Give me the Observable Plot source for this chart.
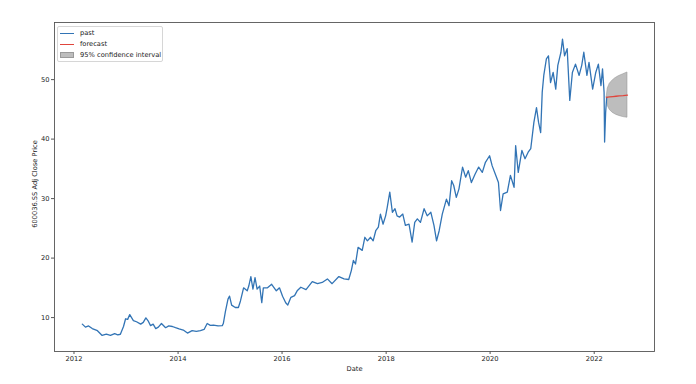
<!DOCTYPE html>
<html>
<head>
<meta charset="utf-8">
<script src="https://cdn.jsdelivr.net/npm/d3@7"></script>
<script src="https://cdn.jsdelivr.net/npm/@observablehq/plot@0.6"></script>
<style>
  html, body { margin: 0; padding: 0; background: #fff; }
  #wrap { position: relative; width: 696px; height: 384px; font-family: "DejaVu Sans", sans-serif; }
  #legend { position: absolute; left: 57px; top: 26px; width: 106px; height: 36px; border: 1px solid #d6d6d6; border-radius: 2px; background: rgba(255,255,255,0.8); box-sizing: border-box; font-size: 6.7px; color: #222; }
  .row { position: absolute; left: 2px; height: 10px; display: flex; align-items: center; white-space: nowrap; }
  .sw { width: 14px; margin-right: 6px; }
</style>
</head>
<body>
<div id="wrap"></div>
<script>
// ---- data (decimal years) ----
const pastT = [2012.16,2012.22,2012.28,2012.35,2012.45,2012.54,2012.62,2012.70,2012.78,2012.84,2012.89,2012.95,2012.99,2013.03,2013.07,2013.14,2013.20,2013.28,2013.33,2013.38,2013.42,2013.47,2013.52,2013.57,2013.62,2013.68,2013.76,2013.82,2013.89,2013.95,2014.02,2014.10,2014.18,2014.27,2014.35,2014.43,2014.50,2014.56,2014.62,2014.68,2014.77,2014.85,2014.87,2014.91,2014.96,2014.99,2015.03,2015.10,2015.16,2015.20,2015.26,2015.33,2015.36,2015.40,2015.44,2015.48,2015.52,2015.57,2015.61,2015.64,2015.72,2015.80,2015.89,2015.95,2016.01,2016.07,2016.11,2016.17,2016.24,2016.29,2016.36,2016.46,2016.58,2016.68,2016.77,2016.87,2016.96,2017.09,2017.19,2017.28,2017.33,2017.37,2017.41,2017.46,2017.54,2017.59,2017.64,2017.70,2017.75,2017.80,2017.85,2017.89,2017.94,2017.99,2018.02,2018.07,2018.12,2018.17,2018.21,2018.26,2018.32,2018.37,2018.44,2018.50,2018.55,2018.60,2018.66,2018.73,2018.79,2018.86,2018.92,2018.97,2019.02,2019.08,2019.16,2019.21,2019.26,2019.30,2019.35,2019.40,2019.47,2019.53,2019.58,2019.64,2019.71,2019.78,2019.85,2019.91,2019.99,2020.04,2020.11,2020.16,2020.20,2020.25,2020.33,2020.39,2020.46,2020.49,2020.54,2020.61,2020.67,2020.73,2020.78,2020.84,2020.89,2020.93,2020.97,2021.00,2021.03,2021.08,2021.12,2021.16,2021.21,2021.26,2021.30,2021.36,2021.39,2021.43,2021.48,2021.53,2021.58,2021.64,2021.71,2021.76,2021.80,2021.86,2021.90,2021.97,2022.03,2022.08,2022.13,2022.16,2022.19,2022.20,2022.22,2022.24];
const pastV = [8.9,8.4,8.6,8.15,7.8,7.0,7.2,7.0,7.3,7.1,7.2,8.5,9.8,9.7,10.5,9.5,9.3,8.9,9.2,9.95,9.5,8.65,8.9,8.15,8.4,9.0,8.3,8.6,8.5,8.3,8.1,7.9,7.4,7.8,7.7,7.8,8.0,9.0,8.7,8.75,8.6,8.65,9.0,11.0,13.1,13.6,12.1,11.7,11.7,12.8,15.0,14.5,15.3,16.9,14.8,16.7,14.8,15.3,12.5,15.0,15.0,15.6,14.5,15.0,13.6,12.5,12.1,13.4,13.7,14.5,15.1,14.7,16.05,15.7,15.9,16.5,15.7,16.9,16.5,16.4,17.9,19.6,19.0,21.8,21.3,23.5,22.9,23.5,22.9,24.6,25.2,27.4,25.7,27.1,28.5,31.1,27.7,28.3,27.1,26.9,27.4,25.5,25.7,22.7,26.0,26.6,26.0,28.3,27.1,27.7,25.5,22.9,24.6,27.4,29.9,28.8,33.0,32.2,30.2,31.6,35.3,33.6,34.7,32.7,34.1,35.3,34.4,36.1,37.2,35.5,33.9,32.7,28.0,30.8,31.1,33.9,31.9,38.9,34.4,38.1,36.7,37.8,38.4,42.8,45.3,42.8,41.1,47.9,50.7,53.5,54.0,49.5,51.2,48.4,52.4,54.6,56.8,54.0,55.2,46.5,51.2,52.6,50.7,52.4,54.6,50.7,52.9,48.4,51.2,52.6,49.0,51.8,47.9,39.5,44.5,47.0];

const fcT  = [2022.24,2022.26,2022.30,2022.36,2022.42,2022.48,2022.56,2022.64];
const fcV  = [47.0,47.05,47.1,47.15,47.2,47.25,47.3,47.4];
const ciLo = [47.0,45.6,44.9,44.4,44.1,43.9,43.7,43.6];
const ciHi = [47.0,48.5,49.3,49.9,50.3,50.6,50.9,51.2];

const yTicks = [10,20,30,40,50];
const xTickYears = [2012,2014,2016,2018,2020,2022];
const yLabel = "600036.SS Adj Close Price";
const xLabel = "Date";
const legendLabels = ["past","forecast","95% confidence interval"];

// ---- helpers ----
const toDate = y => { const yr = Math.floor(y); const a = Date.UTC(yr,0,1), b = Date.UTC(yr+1,0,1); return new Date(a + (y-yr)*(b-a)); };
const past = pastT.map((t,i) => ({date: toDate(t), v: pastV[i]}));
const fc = fcT.map((t,i) => ({date: toDate(t), v: fcV[i], lo: ciLo[i], hi: ciHi[i]}));

const BLUE = "#3274b5", RED = "#e0453c", GREY = "#bdbdbd";

const chart = Plot.plot({
  width: 696, height: 384,
  marginLeft: 54, marginRight: 42, marginTop: 22, marginBottom: 33,
  style: {fontFamily: "DejaVu Sans, sans-serif", fontSize: "6.7px", color: "#222", background: "#fff"},
  x: {type: "utc", domain: [toDate(2011.625), toDate(2023.16)]},
  y: {domain: [4.3, 59.6]},
  marks: [
    Plot.areaY(fc, {x: "date", y1: "lo", y2: "hi", fill: GREY, stroke: "#9a9a9a", strokeWidth: 0.6, curve: "linear"}),
    Plot.lineY(past, {x: "date", y: "v", stroke: BLUE, strokeWidth: 1.3}),
    Plot.lineY(fc, {x: "date", y: "v", stroke: RED, strokeWidth: 1.3}),
    Plot.frame({stroke: "#555", strokeWidth: 0.9}),
    Plot.axisX(xTickYears.map(y => toDate(y)), {tickFormat: d3.utcFormat("%Y"), tickSize: 3, tickPadding: 2, label: null, stroke: "#555", fontSize: 6.7}),
    Plot.axisY(yTicks, {tickSize: 3, tickPadding: 2, label: null, stroke: "#555", fontSize: 6.7}),
    Plot.text([xLabel], {frameAnchor: "bottom", dy: 19, text: d => d, fontSize: 6.7, fill: "#222", textAnchor: "middle"}),
    Plot.text([yLabel], {frameAnchor: "left", dx: -19.5, dy: -3, rotate: -90, text: d => d, fontSize: 6.7, fill: "#222", textAnchor: "middle", lineAnchor: "middle"})
  ]
});
const wrap = document.getElementById("wrap");
wrap.appendChild(chart);

// legend
const lg = document.createElement("div");
lg.id = "legend";
const swatches = [
  `<div class="sw" style="height:0;border-top:1.3px solid ${BLUE}"></div>`,
  `<div class="sw" style="height:0;border-top:1.3px solid ${RED}"></div>`,
  `<div class="sw" style="height:6px;background:${GREY};border:0.5px solid #9a9a9a;box-sizing:border-box"></div>`
];
legendLabels.forEach((lab, i) => {
  const r = document.createElement("div");
  r.className = "row";
  r.style.top = (1 + i * 11) + "px";
  r.innerHTML = swatches[i] + `<span>${lab}</span>`;
  lg.appendChild(r);
});
wrap.appendChild(lg);
</script>
</body>
</html>
